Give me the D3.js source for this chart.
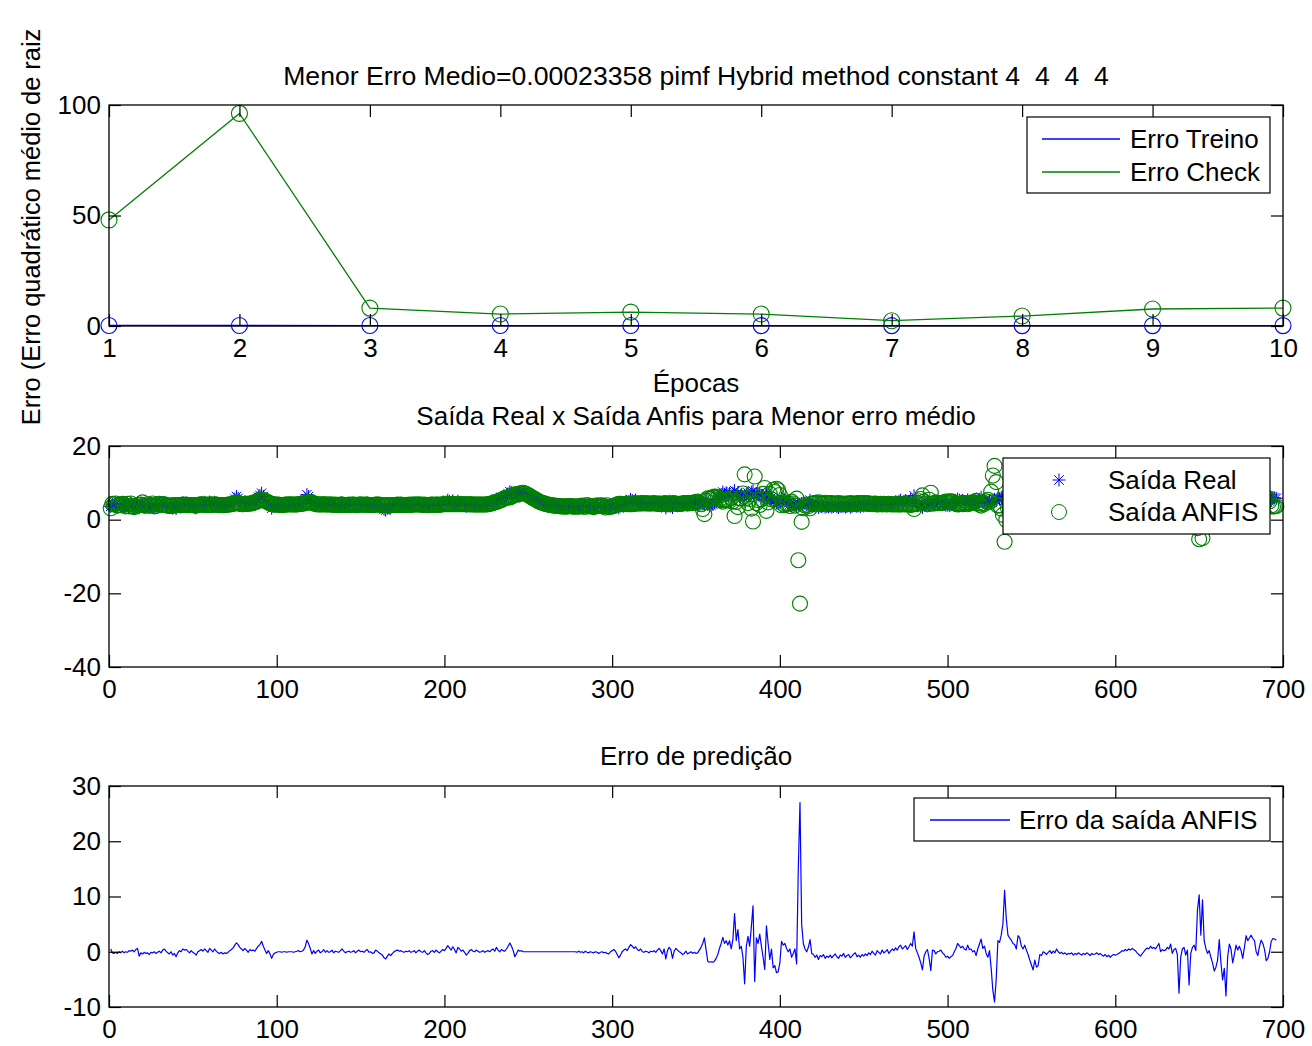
<!DOCTYPE html>
<html><head><meta charset="utf-8">
<script src="https://cdn.jsdelivr.net/npm/d3@7/dist/d3.min.js"></script>
<style>
html,body{margin:0;padding:0;background:#fff;}
text{white-space:pre;}
</style>
</head><body>
<script>
// ---------------- DATA ----------------
const epocas = [1,2,3,4,5,6,7,8,9,10];
const erroTreino = [0.24,0.22,0.21,0.20,0.20,0.19,0.19,0.18,0.18,0.18];
const erroCheck = [48.0,96.2,8.1,5.4,6.3,5.4,2.4,4.5,7.7,8.1];

const xTicksTop = [1,2,3,4,5,6,7,8,9,10];
const yTicksTop = [0,50,100];
const xTicksSamples = [0,100,200,300,400,500,600,700];
const yTicksMid = [-40,-20,0,20];
const yTicksBot = [-10,0,10,20,30];

const saidaReal = [
3.6,4.1,3.8,4.3,3.5,4.0,3.7,4.4,3.9,3.6, 4.2,3.8,4.5,3.9,3.4,4.1,4.6,3.2,3.9,4.3,
3.7,3.5,4.0,3.3,3.9,4.2,3.6,3.4,4.1,4.4, 3.8,4.5,4.7,4.0,3.6,3.3,3.9,3.1,3.7,3.0,
3.8,4.2,3.9,4.6,4.3,4.5,4.0,3.7,4.2,3.9, 3.5,3.2,4.0,4.3,4.6,4.1,4.7,4.2,3.8,4.8,
4.4,4.0,4.7,4.2,3.8,3.6,3.9,3.5,3.8,3.7, 4.0,4.3,4.6,5.0,5.6,6.3,5.8,5.1,4.7,4.4,
4.9,4.6,4.2,4.8,4.6,4.9,4.8,5.5,6.1,6.6, 7.2,6.3,5.4,4.6,4.9,4.0,3.1,3.6,3.9,4.0,
4.1,4.0,3.9,4.0,4.1,4.0,4.1,4.2,4.1,4.0, 4.1,4.2,4.4,4.3,4.4,4.7,5.4,6.8,6.3,5.2,
4.3,4.6,4.0,4.2,4.5,3.9,4.1,4.6,4.0,4.3, 4.0,4.1,4.4,3.8,4.2,4.0,3.9,4.3,4.6,4.1,
3.8,4.0,4.2,3.9,4.1,4.3,3.8,4.0,4.4,4.1, 4.2,3.9,4.3,4.5,3.9,4.0,3.7,3.8,4.4,4.2,
3.9,3.6,3.3,2.8,2.6,3.1,3.5,3.2,3.7,4.0, 4.2,4.4,4.1,4.3,4.0,3.9,4.1,4.0,4.3,3.9,
4.1,4.3,3.9,4.2,4.4,4.1,3.9,4.3,3.8,3.5, 3.7,4.2,4.3,3.9,4.4,4.1,3.8,4.2,4.6,4.4,
4.8,5.3,4.9,4.5,5.1,4.6,4.0,5.0,4.7,4.3, 4.5,4.1,3.6,3.9,4.3,4.6,4.2,4.1,4.4,4.2,
4.0,4.1,4.3,4.0,4.2,4.4,4.3,4.7,5.0,4.8, 5.6,5.3,5.2,5.7,5.8,6.0,6.5,7.0,7.6,7.3,
6.8,6.0,6.6,7.1,7.2,7.4,7.3,7.1,6.9,6.6, 6.4,6.1,5.8,5.5,5.3,5.0,4.8,4.6,4.5,4.3,
4.2,4.1,4.0,3.9,3.8,3.8,3.7,3.7,3.6,3.6, 3.6,3.5,3.6,3.6,3.7,3.6,3.5,3.6,3.4,3.7,
3.5,3.8,3.3,3.6,3.9,3.4,3.7,3.5,3.2,3.6, 3.8,3.4,3.7,3.9,3.5,3.2,3.6,3.0,3.5,3.8,
4.1,4.0,3.6,3.2,3.7,4.2,4.5,4.8,4.4,5.0, 5.5,5.2,4.9,5.3,4.8,4.6,4.9,4.5,4.3,4.6,
4.4,4.2,4.5,4.4,4.7,4.3,4.6,4.9,4.5,4.0, 4.8,3.2,4.4,5.0,4.7,3.3,4.5,4.9,4.6,4.3,
4.1,3.9,4.2,4.6,4.0,4.3,4.5,4.2,4.6,4.4, 4.7,4.9,5.0,4.4,4.0,5.6,4.1,3.8,4.0,4.2,
4.6,5.0,5.5,6.2,6.8,7.5,6.9,7.3,6.6,7.1, 6.4,7.2,7.9,6.8,7.4,6.3,6.7,6.1,6.5,6.9,
7.3,6.6,7.5,7.8,6.3,7.0,6.8,7.2,6.5,6.0, 5.4,7.1,6.2,5.6,6.0,5.2,5.0,4.6,4.4,4.7,
5.8,5.5,5.4,4.9,4.5,4.2,3.9,4.1,4.3,3.5, 4.0,4.2,4.4,4.6,4.3,4.1,4.5,5.3,4.0,3.9,
3.6,3.8,3.3,3.7,3.5,3.8,3.4,3.6,3.5,3.7, 3.4,3.6,3.9,3.5,3.3,3.7,3.6,3.9,3.4,3.6,
3.8,3.4,3.6,3.9,4.0,3.6,3.8,3.5,3.9,3.7, 4.0,3.8,4.1,3.9,4.3,4.0,3.8,4.3,4.1,3.9,
4.4,4.1,4.2,4.5,4.0,4.3,4.6,4.4,4.8,4.5, 5.0,5.3,4.7,5.0,5.2,4.6,5.0,5.5,5.1,6.5,
4.8,4.3,4.0,3.6,3.3,4.1,4.4,4.6,4.2,3.9, 4.7,4.6,4.3,4.5,4.6,4.8,4.4,4.2,3.9,4.0,
3.8,4.0,4.2,4.5,4.9,5.6,5.3,5.0,5.2,4.9, 4.8,5.4,4.9,5.0,4.7,4.9,4.4,5.0,5.5,6.1,
5.1,5.3,4.7,4.4,5.0,4.6,5.0,5.5,5.2,5.8, 5.6,6.0,6.3,5.1,5.9,6.2,6.0,5.9,5.6,5.5,
5.2,6.4,6.1,5.4,5.2,5.5,5.1,4.8,4.4,4.1, 3.8,4.3,3.9,4.0,4.6,4.5,4.8,4.7,4.6,4.8,
4.9,4.7,4.9,4.8,5.1,4.9,4.8,4.9,4.7,4.8, 4.7,4.8,4.8,4.9,4.6,4.8,4.7,4.9,4.8,4.6,
4.8,4.7,4.9,4.8,4.6,4.8,4.7,4.8,4.9,4.7, 4.8,4.6,4.5,4.7,4.4,4.6,4.3,4.5,4.7,4.6,
4.7,4.9,5.1,5.3,5.2,5.5,5.3,5.6,5.4,5.7, 5.5,5.3,5.0,4.8,4.5,4.9,5.2,5.5,5.8,5.6,
6.0,5.7,5.9,5.6,6.0,6.4,5.3,5.6,5.4,5.5, 5.9,5.7,6.3,5.2,5.6,5.8,5.0,4.6,4.8,5.5,
5.7,4.9,5.3,4.5,5.0,5.6,5.9,5.3,5.2,5.0, 4.8,4.4,5.2,5.1,4.8,5.0,4.6,4.2,3.9,4.1,
4.4,5.6,4.3,3.8,4.1,3.5,4.5,5.4,5.0,4.2, 4.7,5.3,4.9,5.2,4.8,4.2,5.1,5.9,5.6,5.8,
6.1,5.9,5.7,5.0,4.7,5.3,5.8,5.6,5.1,4.4, 4.6,5.0,5.7,6.0,5.9,5.8
];

const saidaAnfis = [
3.1,4.3,4.1,4.4,3.8,4.0,3.9,4.3,4.1,3.6, 4.3,3.6,4.4,3.6,3.4,3.7,4.0,4.0,4.1,4.7,
3.8,3.8,4.2,3.8,4.0,4.4,3.6,3.7,4.2,4.3, 4.0,4.2,4.2,3.9,3.8,3.7,3.9,3.7,4.0,3.9,
4.0,4.0,3.9,4.1,4.0,4.1,3.9,3.9,4.0,4.0, 3.8,3.8,4.0,4.1,4.2,4.0,4.2,4.0,3.9,4.2,
4.1,4.0,4.2,4.1,4.0,3.9,4.0,3.9,4.0,4.0, 4.1,4.1,4.2,4.3,4.4,4.7,4.5,4.3,4.2,4.2,
4.3,4.3,4.3,4.4,4.4,4.6,4.7,4.9,5.1,5.3, 5.3,5.3,5.1,4.9,4.7,4.4,4.3,4.1,4.1,4.1,
4.1,4.0,4.0,4.0,4.1,4.1,4.1,4.2,4.1,4.1, 4.1,4.1,4.2,4.3,4.3,4.4,4.5,4.7,4.8,4.6,
4.7,4.4,4.3,4.1,4.2,4.1,4.1,4.2,4.1,4.1, 4.1,4.1,4.1,4.0,4.1,4.0,4.0,4.1,4.1,4.0,
4.0,4.0,4.1,4.0,4.1,4.1,4.0,3.9,4.1,4.1, 4.1,4.0,4.1,4.1,4.0,4.0,4.0,4.0,4.1,4.1,
4.1,4.0,3.9,3.9,3.9,3.9,3.9,3.9,4.0,4.0, 4.0,4.1,4.0,4.1,4.0,4.0,4.0,4.0,4.1,4.0,
4.1,4.1,4.1,4.1,4.1,4.1,4.0,4.1,4.0,4.0, 4.0,4.1,4.1,4.0,4.1,4.1,4.0,4.1,4.2,4.2,
4.2,4.2,4.2,4.2,4.2,4.2,4.2,4.2,4.2,4.2, 4.2,4.2,4.2,4.2,4.1,4.2,4.1,4.1,4.1,4.1,
4.1,4.1,4.1,4.1,4.1,4.2,4.3,4.4,4.5,4.7, 4.8,5.0,5.2,5.3,5.6,5.9,6.0,6.0,6.0,6.3,
6.6,6.9,6.9,6.8,7.1,7.2,7.3,7.1,6.9,6.6, 6.4,6.1,5.8,5.5,5.3,5.0,4.8,4.6,4.5,4.3,
4.2,4.1,4.0,3.9,3.8,3.8,3.7,3.7,3.6,3.6, 3.6,3.5,3.6,3.6,3.7,3.6,3.5,3.6,3.5,3.6,
3.6,3.8,3.5,3.5,4.0,3.6,3.7,3.6,3.4,3.6, 3.9,3.7,3.8,3.9,3.7,3.3,3.9,3.4,3.5,3.6,
3.7,3.9,4.1,4.3,4.3,4.2,4.2,4.3,4.2,4.2, 4.2,4.2,4.3,4.4,4.4,4.4,4.4,4.5,4.4,4.5,
4.4,4.4,4.4,4.4,4.5,4.4,4.3,4.3,4.3,4.4, 4.3,4.5,4.2,4.2,4.3,4.5,4.4,4.3,4.3,4.3,
4.3,4.4,4.5,4.5,4.4,4.5,4.5,4.5,4.7,4.7, 4.9,4.6,4.2,2.9,1.5,5.2,5.8,5.7,5.8,6.1,
6.3,6.2,6.0,5.6,5.3,4.9,5.4,5.3,5.4,5.1, 5.9,5.0,1.0,4.8,3.4,5.8,5.7,7.1,12.3,5.9,
4.5,5.6,3.0,-0.5,11.7,4.5,5.3,4.0,5.5,7.0, 8.6,2.4,4.7,7.0,5.5,8.1,7.5,8.4,8.0,6.7,
3.9,4.3,3.9,4.3,4.5,3.7,4.9,4.4,3.8,5.7, -11.0,-22.8,-0.6,3.1,3.8,4.1,3.7,3.1,4.3,4.4,
4.6,4.4,4.7,4.4,4.4,4.3,4.6,4.4,4.5,4.3, 4.5,4.3,4.3,4.4,4.5,4.3,4.4,4.2,4.4,4.3,
4.3,4.5,4.4,4.3,4.2,4.5,4.4,4.5,4.4,4.5, 4.4,4.5,4.3,4.4,4.2,4.3,4.4,4.1,4.2,4.3,
4.1,4.3,4.2,4.1,4.3,4.2,4.1,4.2,4.1,4.2, 4.1,4.1,4.2,4.2,4.1,4.2,4.1,4.0,4.1,2.9,
4.2,4.5,5.0,5.6,6.6,4.9,4.4,4.2,5.4,7.3, 4.4,4.4,4.7,4.5,4.5,4.5,4.6,4.7,4.9,4.8,
5.0,4.9,4.9,4.5,4.3,4.1,4.2,4.3,4.2,4.4, 4.5,4.2,4.5,4.5,4.7,4.7,5.1,4.5,4.1,3.8,
4.5,4.3,5.0,5.4,4.8,7.6,12.0,14.6,10.2,3.8, 3.9,3.0,1.3,-6.0,-0.1,3.2,3.5,3.8,4.1,4.2,
4.7,3.5,3.6,4.4,4.7,4.3,4.8,5.3,5.9,6.5, 7.1,5.8,6.7,6.5,5.1,5.2,4.8,4.9,5.1,4.9,
4.7,5.0,4.8,5.0,4.6,4.9,5.1,5.0,5.1,5.0, 5.2,5.1,5.2,5.1,5.2,5.1,5.2,5.1,5.2,5.2,
5.1,5.2,5.1,5.2,5.3,5.1,5.2,5.2,5.1,5.2, 5.1,5.2,5.3,5.2,5.3,5.2,5.3,5.2,5.2,5.2,
5.2,5.2,5.2,5.1,5.1,5.1,5.1,5.1,5.1,5.1, 5.1,5.1,5.2,5.3,5.3,5.3,5.2,5.1,5.1,5.1,
5.0,5.1,5.1,5.1,5.0,4.9,5.3,5.2,5.2,5.2, 5.1,5.2,4.9,5.5,5.2,5.2,5.5,12.1,5.8,5.0,
4.9,5.5,5.0,10.5,5.3,4.8,4.7,5.1,-2.3,-5.3, 1.8,-5.0,3.2,4.5,5.1,4.8,5.6,6.2,7.4,6.9,
5.9,3.4,6.3,8.9,7.1,11.5,5.5,4.0,4.5,6.2, 5.2,4.1,4.6,4.2,4.6,5.4,4.3,3.0,3.6,3.3,
3.1,3.5,3.7,5.0,5.4,4.3,3.7,4.1,4.7,6.0, 5.8,5.0,3.8,3.6,3.6,3.7
];

const erroAnfis = [
0.5,-0.2,-0.3,-0.1,-0.3,0.0,-0.2,0.1,-0.2,0.0, -0.1,0.2,0.1,0.3,0.0,0.4,0.6,-0.8,-0.2,-0.4,
-0.1,-0.3,-0.2,-0.5,-0.1,-0.2,0.0,-0.3,-0.1,0.1, -0.2,0.3,0.5,0.1,-0.2,-0.4,0.0,-0.6,-0.3,-0.9,
-0.2,0.2,0.0,0.5,0.3,0.4,0.1,-0.2,0.2,-0.1, -0.3,-0.6,0.0,0.2,0.4,0.1,0.5,0.2,-0.1,0.6,
0.3,0.0,0.5,0.1,-0.2,-0.3,-0.1,-0.4,-0.2,-0.3, -0.1,0.2,0.4,0.7,1.2,1.6,1.3,0.8,0.5,0.2,
0.6,0.3,-0.1,0.4,0.2,0.3,0.1,0.6,1.0,1.3, 1.9,1.0,0.3,-0.3,0.2,-0.4,-1.2,-0.5,-0.2,-0.1,
0.0,0.0,-0.1,0.0,0.0,-0.1,0.0,0.0,0.0,-0.1, 0.0,0.1,0.2,0.0,0.1,0.3,0.9,2.1,1.5,0.6,
-0.4,0.2,-0.3,0.1,0.3,-0.2,0.0,0.4,-0.1,0.2, -0.1,0.0,0.3,-0.2,0.1,0.0,-0.1,0.2,0.5,0.1,
-0.2,0.0,0.1,-0.1,0.0,0.2,-0.2,0.1,0.3,0.0, 0.1,-0.1,0.2,0.4,-0.1,0.0,-0.3,-0.2,0.3,0.1,
-0.2,-0.4,-0.6,-1.1,-1.3,-0.8,-0.4,-0.7,-0.3,0.0, 0.2,0.3,0.1,0.2,0.0,-0.1,0.1,0.0,0.2,-0.1,
0.0,0.2,-0.2,0.1,0.3,0.0,-0.1,0.2,-0.2,-0.5, -0.3,0.1,0.2,-0.1,0.3,0.0,-0.2,0.1,0.4,0.2,
0.6,1.1,0.7,0.3,0.9,0.4,-0.2,0.8,0.5,0.1, 0.3,-0.1,-0.6,-0.3,0.2,0.4,0.1,0.0,0.3,0.1,
-0.1,0.0,0.2,-0.1,0.1,0.2,0.0,0.3,0.5,0.1, 0.8,0.3,0.0,0.4,0.2,0.1,0.5,1.0,1.6,1.0,
0.2,-0.9,-0.3,0.3,0.1,0.2,0.0,0.0,0.0,0.0, 0.0,0.0,0.0,0.0,0.0,0.0,0.0,0.0,0.0,0.0,
0.0,0.0,0.0,0.0,0.0,0.0,0.0,0.0,0.0,0.0, 0.0,0.0,0.0,0.0,0.0,0.0,0.0,0.0,-0.1,0.1,
-0.1,0.0,-0.2,0.1,-0.1,-0.2,0.0,-0.1,-0.2,0.0, -0.1,-0.3,-0.1,0.0,-0.2,-0.1,-0.3,-0.4,0.0,0.2,
0.4,0.1,-0.5,-1.1,-0.6,0.0,0.3,0.5,0.2,0.8, 1.3,1.0,0.6,0.9,0.4,0.2,0.5,0.0,-0.1,0.1,
0.0,-0.2,0.1,0.0,0.2,-0.1,0.3,0.6,0.2,-0.4, 0.5,-1.3,0.2,0.8,0.4,-1.2,0.1,0.6,0.3,0.0,
-0.2,-0.5,-0.3,0.1,-0.4,-0.2,0.0,-0.3,-0.1,-0.3, -0.2,0.3,0.8,1.5,2.5,0.4,-1.7,-1.9,-1.8,-1.9,
-1.7,-1.2,-0.5,0.6,1.5,2.6,1.5,2.0,1.2,2.0, 0.5,2.2,6.9,2.0,4.0,0.5,1.0,-1.0,-5.8,1.0,
2.8,1.0,4.5,8.3,-5.4,2.5,1.5,3.2,1.0,-1.0, -3.2,4.7,1.5,-1.4,0.5,-2.9,-2.5,-3.8,-3.6,-2.0,
1.9,1.2,1.5,0.6,0.0,0.5,-1.0,-0.3,0.5,-2.2, 15.0,27.0,5.0,1.5,0.5,0.0,0.8,2.2,-0.3,-0.5,
-1.0,-0.6,-1.4,-0.7,-0.9,-0.5,-1.2,-0.8,-1.0,-0.6, -1.1,-0.7,-0.4,-0.9,-1.2,-0.6,-0.8,-0.3,-1.0,-0.7,
-0.5,-1.1,-0.8,-0.4,-0.2,-0.9,-0.6,-1.0,-0.5,-0.8, -0.4,-0.7,-0.2,-0.5,0.1,-0.3,-0.6,0.2,-0.1,-0.4,
0.3,-0.2,0.0,0.4,-0.3,0.1,0.5,0.2,0.7,0.3, 0.9,1.2,0.5,0.8,1.1,0.4,0.9,1.5,1.0,3.6,
0.6,-0.2,-1.0,-2.0,-3.3,-0.8,0.0,0.4,-1.2,-3.4, 0.3,0.2,-0.4,0.0,0.1,0.3,-0.2,-0.5,-1.0,-0.8,
-1.2,-0.9,-0.7,0.0,0.6,1.5,1.1,0.7,1.0,0.5, 0.3,1.2,0.4,0.5,0.0,0.2,-0.7,0.5,1.4,2.3,
0.6,1.0,-0.3,-1.0,0.2,-3.0,-7.0,-9.1,-5.0,2.0, 1.7,3.0,5.0,11.1,6.0,3.0,2.5,2.1,1.5,1.3,
0.5,2.9,2.5,1.0,0.5,1.2,0.3,-0.5,-1.5,-2.4, -3.3,-1.5,-2.8,-2.5,-0.5,-0.7,0.0,-0.2,-0.5,-0.1,
0.2,-0.3,0.1,-0.2,0.5,0.0,-0.3,-0.1,-0.4,-0.2, -0.5,-0.3,-0.4,-0.2,-0.6,-0.3,-0.5,-0.2,-0.4,-0.6,
-0.3,-0.5,-0.2,-0.4,-0.7,-0.3,-0.5,-0.4,-0.2,-0.5, -0.3,-0.6,-0.8,-0.5,-0.9,-0.6,-1.0,-0.7,-0.5,-0.6,
-0.5,-0.3,-0.1,0.2,0.1,0.4,0.2,0.5,0.3,0.6, 0.4,0.2,-0.2,-0.5,-0.8,-0.4,0.0,0.4,0.7,0.5,
1.0,0.6,0.8,0.5,1.0,1.5,0.0,0.4,0.2,0.3, 0.8,0.5,1.4,-0.3,0.4,0.6,-0.5,-7.5,-1.0,0.5,
0.8,-0.6,0.3,-6.0,-0.3,0.8,1.2,0.2,7.5,10.3, 3.0,9.4,2.0,0.6,-0.3,0.2,-1.0,-2.0,-3.5,-2.8,
-1.5,2.2,-2.0,-5.1,-3.0,-8.0,-1.0,1.4,0.5,-2.0, -0.5,1.2,0.3,1.0,0.2,-1.2,0.8,2.9,2.0,2.5,
3.0,2.4,2.0,0.0,-0.7,1.0,2.1,1.5,0.4,-1.6, -1.2,0.0,1.9,2.4,2.3,2.1
];

const titulo1 = "Menor Erro Medio=0.00023358 pimf Hybrid method constant 4  4  4  4";
const titulo2 = "Saída Real x Saída Anfis para Menor erro médio";
const titulo3 = "Erro de predição";
const rotuloX1 = "Épocas";
const rotuloY1 = "Erro (Erro quadrático médio de raiz";
const legenda1 = ["Erro Treino","Erro Check"];
const legenda2 = ["Saída Real","Saída ANFIS"];
const legenda3 = ["Erro da saída ANFIS"];

// ---------------- DRAWING ----------------
const W = 1312, H = 1046;
const FONT = "'Liberation Sans', Arial, Helvetica, sans-serif";
const FS = 26;
const BLUE = "#0000ff", GREEN = "#008000";
const svg = d3.select("body").append("svg").attr("width", W).attr("height", H)
  .style("font-family", FONT);
svg.append("rect").attr("width", W).attr("height", H).attr("fill", "#fff");

const L = 109, R = 1283;
const panels = {
  top: {t:105, b:326},
  mid: {t:446, b:667},
  bot: {t:786, b:1007}
};

function drawAxes(p, x, y, xt, yt) {
  const g = svg.append("g");
  const fmt = d => String(d);
  const bx = g.append("g").attr("transform", `translate(0,${p.b})`)
    .call(d3.axisBottom(x).tickValues(xt).tickSize(-12).tickSizeOuter(0).tickPadding(13).tickFormat(fmt));
  const tx = g.append("g").attr("transform", `translate(0,${p.t})`)
    .call(d3.axisTop(x).tickValues(xt).tickSize(-12).tickSizeOuter(0).tickFormat(""));
  const ly = g.append("g").attr("transform", `translate(${L},0)`)
    .call(d3.axisLeft(y).tickValues(yt).tickSize(-12).tickSizeOuter(0).tickPadding(8).tickFormat(fmt));
  const ry = g.append("g").attr("transform", `translate(${R},0)`)
    .call(d3.axisRight(y).tickValues(yt).tickSize(-12).tickSizeOuter(0).tickFormat(""));
  [bx, tx, ly, ry].forEach(a => {
    a.attr("font-family", FONT).attr("font-size", FS);
    a.select(".domain").remove();
    a.selectAll(".tick line").attr("stroke", "#000").attr("stroke-width", 1.2);
    a.selectAll(".tick text").attr("fill", "#000");
  });
  g.append("rect").attr("x", L).attr("y", p.t).attr("width", R - L).attr("height", p.b - p.t)
    .attr("fill", "none").attr("stroke", "#000").attr("stroke-width", 1.3);
  return g;
}

function addText(str, x, y, opts = {}) {
  const t = svg.append("text").attr("x", x).attr("y", y).text(str)
    .attr("font-size", opts.size || FS).attr("fill", "#000")
    .attr("text-anchor", opts.anchor || "middle");
  if (opts.rotate) t.attr("transform", `rotate(${opts.rotate},${x},${y})`);
  return t;
}

// ---- Panel 1: training / check error ----
const p1 = panels.top;
const x1 = d3.scaleLinear().domain([1, 10]).range([L, R]);
const y1 = d3.scaleLinear().domain([0, 100]).range([p1.b, p1.t]);
const g1 = svg.append("g");
const line1 = d3.line().x((d, i) => x1(epocas[i])).y(d => y1(d));
[[erroTreino, BLUE], [erroCheck, GREEN]].forEach(([s, c]) => {
  g1.append("path").datum(s).attr("d", line1).attr("fill", "none").attr("stroke", c).attr("stroke-width", 1.3);
  g1.selectAll(null).data(s).enter().append("circle")
    .attr("cx", (d, i) => x1(epocas[i])).attr("cy", d => y1(d)).attr("r", 8)
    .attr("fill", "none").attr("stroke", c).attr("stroke-width", 1.1);
});
drawAxes(p1, x1, y1, xTicksTop, yTicksTop);

// legend 1
const lg1 = svg.append("g");
lg1.append("rect").attr("x", 1027).attr("y", 117).attr("width", 243).attr("height", 76)
  .attr("fill", "#fff").attr("stroke", "#000").attr("stroke-width", 1.2);
[[BLUE, 139], [GREEN, 172]].forEach(([c, yy], i) => {
  lg1.append("line").attr("x1", 1042).attr("x2", 1120).attr("y1", yy).attr("y2", yy)
    .attr("stroke", c).attr("stroke-width", 1.3);
  lg1.append("text").attr("x", 1130).attr("y", yy + 9).attr("font-size", FS).text(legenda1[i]);
});

addText(titulo1, (L + R) / 2, 85, {size: 26.6});
addText(rotuloX1, (L + R) / 2, 392);
addText(rotuloY1, 40, 227, {rotate: -90, size: 25.4});

// ---- Panel 2: real vs anfis ----
const p2 = panels.mid;
const x2 = d3.scaleLinear().domain([0, 700]).range([L, R]);
const y2 = d3.scaleLinear().domain([-40, 20]).range([p2.b, p2.t]);
const g2 = svg.append("g");
function starPath(s) {
  const k = s * 0.72;
  return `M${-s},0H${s}M0,${-s}V${s}M${-k},${-k}L${k},${k}M${-k},${k}L${k},${-k}`;
}
const STAR = starPath(6.5);
g2.selectAll(null).data(saidaReal).enter().append("path")
  .attr("d", STAR).attr("transform", (d, i) => `translate(${x2(i + 1)},${y2(d)})`)
  .attr("fill", "none").attr("stroke", BLUE).attr("stroke-width", 1);
g2.selectAll(null).data(saidaAnfis).enter().append("circle")
  .attr("cx", (d, i) => x2(i + 1)).attr("cy", d => y2(d)).attr("r", 7.5)
  .attr("fill", "none").attr("stroke", GREEN).attr("stroke-width", 1.1);
drawAxes(p2, x2, y2, xTicksSamples, yTicksMid);

const lg2 = svg.append("g");
lg2.append("rect").attr("x", 1003).attr("y", 458).attr("width", 267).attr("height", 76)
  .attr("fill", "#fff").attr("stroke", "#000").attr("stroke-width", 1.2);
lg2.append("path").attr("d", STAR).attr("transform", "translate(1059,480)")
  .attr("fill", "none").attr("stroke", BLUE).attr("stroke-width", 1);
lg2.append("circle").attr("cx", 1059).attr("cy", 512).attr("r", 7.5)
  .attr("fill", "none").attr("stroke", GREEN).attr("stroke-width", 1);
lg2.append("text").attr("x", 1108).attr("y", 489).attr("font-size", FS).text(legenda2[0]);
lg2.append("text").attr("x", 1108).attr("y", 521).attr("font-size", FS).text(legenda2[1]);

addText(titulo2, (L + R) / 2, 425);

// ---- Panel 3: prediction error ----
const p3 = panels.bot;
const x3 = d3.scaleLinear().domain([0, 700]).range([L, R]);
const y3 = d3.scaleLinear().domain([-10, 30]).range([p3.b, p3.t]);
const g3 = svg.append("g");
g3.append("path").datum(erroAnfis)
  .attr("d", d3.line().x((d, i) => x3(i + 1)).y(d => y3(d)))
  .attr("fill", "none").attr("stroke", BLUE).attr("stroke-width", 1.2).attr("stroke-linejoin", "round");
drawAxes(p3, x3, y3, xTicksSamples, yTicksBot);

const lg3 = svg.append("g");
lg3.append("rect").attr("x", 914).attr("y", 798).attr("width", 356).attr("height", 43)
  .attr("fill", "#fff").attr("stroke", "#000").attr("stroke-width", 1.2);
lg3.append("line").attr("x1", 930).attr("x2", 1010).attr("y1", 820).attr("y2", 820)
  .attr("stroke", BLUE).attr("stroke-width", 1.3);
lg3.append("text").attr("x", 1019).attr("y", 829).attr("font-size", FS).text(legenda3[0]);

addText(titulo3, (L + R) / 2, 765);
</script>
</body></html>
